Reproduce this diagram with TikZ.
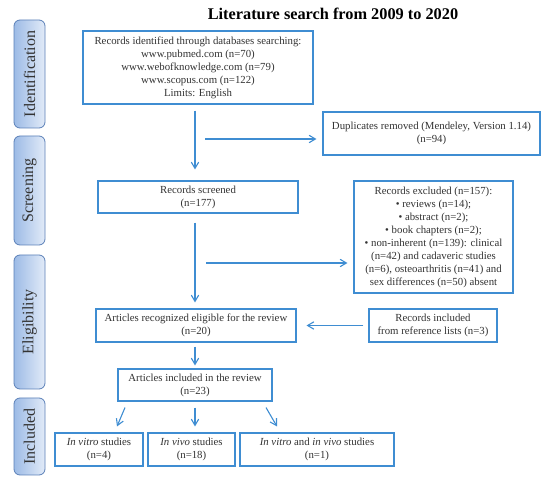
\documentclass[tikz,border=0pt]{standalone}
\usepackage{fontspec}
\setmainfont{Liberation Serif}
\usetikzlibrary{positioning,arrows.meta,calc}
\definecolor{flowline}{HTML}{3F8DD2}
\definecolor{flowtext}{HTML}{333333}
\definecolor{stageline}{HTML}{5B80B8}
\definecolor{stagedark}{HTML}{9DBBE6}
\definecolor{stagelight}{HTML}{E2EBF8}

\begin{document}
\begin{tikzpicture}[
  x=1pt, y=-1pt,
  font=\fontsize{10.8}{13}\selectfont, text=flowtext,
  box/.style={draw=flowline, line width=1.1pt, align=center, inner sep=2pt, fill=white},
  stage/.style={draw=stageline, line width=0.8pt, rounded corners=6pt, left color=stagedark, right color=stagelight,
                minimum width=31pt, font=\fontsize{16}{18}\selectfont, text=flowtext},
  arr/.style={-{Straight Barb[length=2.2mm, width=2.6mm]}, draw=flowline, line width=1.1pt},
  ln/.style={draw=flowline, line width=1.1pt}
]
  \useasboundingbox (0,0) rectangle (550,486);

  % titel
  \node[font=\fontsize{16.3}{18}\selectfont\bfseries, text=black] (title) at (333,14) {Literature search from 2009 to 2020};

  % fasen links
  \node[stage, minimum height=108pt] (ident) at (29.5,74)    {\rotatebox{90}{Identification}};
  \node[stage, minimum height=109pt] (screen) at (29.5,190.5) {\rotatebox{90}{Screening}};
  \node[stage, minimum height=134pt] (elig) at (29.5,322)    {\rotatebox{90}{Eligibility}};
  \node[stage, minimum height=77pt]  (incl) at (29.5,436.5)  {\rotatebox{90}{Included}};

  % hoofdkolom
  \node[box, minimum width=230pt, minimum height=73pt] (ids) at (198,67.5)
    {Records identified through databases searching:\\www.pubmed.com (n=70)\\www.webofknowledge.com (n=79)\\www.scopus.com (n=122)\\Limits: English};
  \node[box, minimum width=200pt, minimum height=32pt] (scr) at (198,197) {Records screened\\(n=177)};
  \node[box, minimum width=200pt, minimum height=33pt] (elg) at (196,325.5) {Articles recognized eligible\ for the review\\(n=20)};
  \node[box, minimum width=154pt, minimum height=32pt] (inc) at (195,385) {Articles included in the review\\(n=23)};
  \node[box, minimum width=88pt, minimum height=33pt] (vitro) at (99,449.5) {\textit{In vitro} studies\\(n=4)};
  \node[box, minimum width=87pt, minimum height=33pt] (vivo) at (191.5,449.5) {\textit{In vivo} studies\\(n=18)};
  \node[box, minimum width=154pt, minimum height=33pt] (both) at (317,449.5) {\textit{In vitro} and \textit{in vivo} studies\\(n=1)};

  % zijkolom
  \node[box, minimum width=217pt, minimum height=43pt] (dup) at (431.5,133.5) {Duplicates removed (Mendeley, Version 1.14)\\(n=94)};
  \node[box, minimum width=159pt, minimum height=112pt] (exc) at (433.5,237)
    {Records excluded (n=157):\\\textbullet\ reviews (n=14);\\\textbullet\ abstract (n=2);\\\textbullet\ book chapters (n=2);\\\textbullet\ non-inherent (n=139): clinical\\(n=42) and cadaveric studies\\(n=6), osteoarthritis (n=41) and\\sex differences (n=50) absent};
  \node[box, minimum width=128pt, minimum height=33pt] (ref) at (433,325.5) {Records included\\from reference lists (n=3)};

  % pijlen
  \coordinate (split1) at (205,139);
  \coordinate (split2) at (206,263);
  \draw[arr] ([xshift=-3pt, yshift=-6pt]ids.south) -- ([xshift=-3pt, yshift=11pt]scr.north);
  \draw[arr] (split1) -- ([xshift=-6pt]dup.west |- split1);
  \draw[arr] ([xshift=-3pt, yshift=-9pt]scr.south) -- ([xshift=-1pt, yshift=6pt]elg.north);
  \draw[arr] (split2) -- ([xshift=-6pt]exc.west |- split2);
  \draw[arr] ([xshift=-5pt]ref.west) -- ([xshift=10pt]elg.east);
  \draw[arr] ([xshift=-1pt, yshift=-4pt]elg.south) -- ([yshift=3pt]inc.north);
  \draw[arr] ([xshift=-70pt, yshift=-6pt]inc.south) -- ([xshift=18pt, yshift=6pt]vitro.north);
  \draw[arr] ([yshift=-6pt]inc.south) -- ([xshift=3.5pt, yshift=6pt]vivo.north);
  \draw[arr] ([xshift=71pt, yshift=-6pt]inc.south) -- ([xshift=-40pt, yshift=6pt]both.north);
\end{tikzpicture}
\end{document}
